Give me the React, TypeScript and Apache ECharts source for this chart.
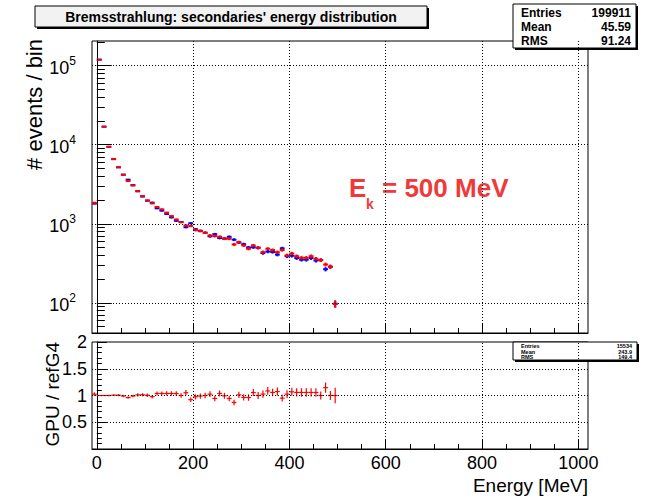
import React, { useEffect, useRef } from "react";
import * as echarts from "echarts";

// ---- data ----
const binCenters = [
  -5, 5, 15, 25, 35, 45, 55, 65, 75, 85, 95, 105, 115, 125, 135, 145, 155, 165, 175, 185,
  195, 205, 215, 225, 235, 245, 255, 265, 275, 285, 295, 305, 315, 325, 335, 345, 355, 365, 375, 385,
  395, 405, 415, 425, 435, 445, 455, 465, 475, 485, 495,
];
const gpuCounts = [
  1845, 119000, 16900, 9400, 6600, 5200, 4150, 3470, 3050, 2600, 2240, 1970, 1810, 1630, 1520, 1380, 1250, 1130, 1050, 952,
  935, 831, 807, 769, 711, 698, 685, 646, 646, 547, 586, 532, 483, 532, 497, 437, 483, 465, 437, 465,
  398, 421, 389, 371, 371, 389, 361, 347, 305, 286, 97,
];
const refCounts = [
  1800, 119000, 16900, 9400, 6560, 5170, 4190, 3610, 3080, 2570, 2210, 1960, 1850, 1570, 1465, 1330, 1205, 1090, 1050, 905,
  1015, 852, 815, 769, 694, 739, 660, 650, 684, 629, 579, 552, 502, 504, 497, 426, 445, 440, 407, 489,
  388, 394, 368, 351, 351, 368, 342, 347, 266, 286, 97,
];
const xLabelTicks = [0, 200, 400, 600, 800, 1000];
const xMinorTicks = [
  0, 50, 100, 150, 200, 250, 300, 350, 400, 450, 500, 550, 600, 650, 700, 750, 800, 850, 900, 950, 1000,
];
const logMajorTicks = [100, 1000, 10000, 100000];
const logMinorTicks = [
  50, 60, 70, 80, 90, 200, 300, 400, 500, 600, 700, 800, 900, 2000, 3000, 4000, 5000, 6000, 7000, 8000, 9000,
  20000, 30000, 40000, 50000, 60000, 70000, 80000, 90000, 200000,
];
const ratioGridValues = [0.5, 1, 1.5];
const statsMain = [
  ["Entries", "199911"],
  ["Mean", "45.59"],
  ["RMS", "91.24"],
];
const statsRatio = [
  ["Entries", "15534"],
  ["Mean", "243.9"],
  ["RMS", "149.4"],
];
const titleText = "Bremsstrahlung: secondaries' energy distribution";
const halfBin = 5;

const FONT = "'Liberation Sans', Arial, Helvetica, sans-serif";
const RED = "#ff0000";
const BLUE = "#0000ff";

function errRender(color: string, lw: number) {
  return (params: any, api: any) => {
    const x = api.value(0);
    const y = api.value(1);
    const e = api.value(2);
    const l = api.coord([x - halfBin, y]);
    const r = api.coord([x + halfBin, y]);
    const t = api.coord([x, y + e]);
    const b = api.coord([x, Math.max(y - e, 1e-6)]);
    return {
      type: "group",
      children: [
        { type: "line", shape: { x1: l[0], y1: l[1], x2: r[0], y2: r[1] }, style: { stroke: color, lineWidth: lw } },
        { type: "line", shape: { x1: t[0], y1: t[1], x2: b[0], y2: b[1] }, style: { stroke: color, lineWidth: lw } },
      ],
    };
  };
}

export default function App() {
  const ref = useRef<HTMLDivElement>(null);
  useEffect(() => {
    if (!ref.current) return;
    const chart = echarts.init(ref.current, null, { renderer: "svg" });

    const gpuData = binCenters.map((c, i) => [c, gpuCounts[i], Math.sqrt(gpuCounts[i])]);
    const refData = binCenters.map((c, i) => [c, refCounts[i], Math.sqrt(refCounts[i])]);
    const ratioData = binCenters.map((c, i) => {
      const r = gpuCounts[i] / refCounts[i];
      return [c, r, r * Math.sqrt(1 / gpuCounts[i] + 1 / refCounts[i])];
    });

    const dotted = { color: "#000", width: 1, type: [1, 2] as any, opacity: 1 };
    const gridL = 92, gridW = 496;
    const baseX = {
      type: "value",
      min: -10,
      max: 1020,
      axisLine: { show: true, lineStyle: { color: "#000", width: 1 } },
      axisLabel: { show: false },
      splitLine: { show: false },
    };

    const statsGraphic = (x: number, y: number, w: number, h: number, rows: string[][], fs: number, rowH: number, y0: number) => {
      const children: any[] = [
        { type: "rect", shape: { x: x + 2, y: y + 2, width: w, height: h }, style: { fill: "#000" } },
        { type: "rect", shape: { x, y, width: w, height: h }, style: { fill: "#fff", stroke: "#000", lineWidth: 1 } },
      ];
      rows.forEach((r, i) => {
        children.push({
          type: "text", x: x + 8, y: y0 + i * rowH,
          style: { text: r[0], font: `bold ${fs}px ${FONT}`, fill: "#000", align: "left", verticalAlign: "middle" },
        });
        children.push({
          type: "text", x: x + w - 5, y: y0 + i * rowH,
          style: { text: r[1], font: `bold ${fs}px ${FONT}`, fill: "#000", align: "right", verticalAlign: "middle" },
        });
      });
      return { type: "group", children };
    };

    chart.setOption({
      animation: false,
      backgroundColor: "#fff",
      textStyle: { fontFamily: FONT },
      grid: [
        { left: gridL, width: gridW, top: 41, height: 292, show: true, borderColor: "#000", borderWidth: 1, backgroundColor: "transparent" },
        { left: gridL, width: gridW, top: 342, height: 107, show: true, borderColor: "#000", borderWidth: 1, backgroundColor: "transparent" },
      ],
      xAxis: [
        { ...baseX, gridIndex: 0, position: "bottom",
          axisTick: { show: true, inside: true, length: 10, customValues: xLabelTicks, lineStyle: { color: "#000" } } },
        { ...baseX, gridIndex: 0, position: "bottom", axisLine: { show: false },
          axisTick: { show: true, inside: true, length: 5, customValues: xMinorTicks, lineStyle: { color: "#000" } } },
        { ...baseX, gridIndex: 1, position: "bottom",
          axisTick: { show: true, inside: true, length: 10, customValues: xLabelTicks, lineStyle: { color: "#000" } },
          axisLabel: { show: true, customValues: xLabelTicks, fontSize: 18, color: "#000", margin: 5, fontFamily: FONT,
            formatter: (v: number) => String(v) } },
        { ...baseX, gridIndex: 1, position: "bottom", axisLine: { show: false },
          axisTick: { show: true, inside: true, length: 5, customValues: xMinorTicks, lineStyle: { color: "#000" } } },
      ],
      yAxis: [
        { type: "log", gridIndex: 0, position: "left", min: 41.5, max: 205000,
          axisLine: { show: true, lineStyle: { color: "#000" } },
          axisTick: { show: true, inside: true, length: 15, customValues: logMajorTicks, lineStyle: { color: "#000" } },
          splitLine: { show: false },
          axisLabel: {
            show: true, customValues: logMajorTicks, margin: 16, color: "#000",
            formatter: (v: number) => `{b|10}{s|${Math.round(Math.log10(v))}}`,
            rich: {
              b: { fontSize: 18, fontFamily: FONT, color: "#000", verticalAlign: "bottom", lineHeight: 22 },
              s: { fontSize: 12, fontFamily: FONT, color: "#000", verticalAlign: "bottom", lineHeight: 22, padding: [0, 0, 10, 0] },
            },
          } },
        { type: "log", gridIndex: 0, position: "left", min: 41.5, max: 205000,
          axisLine: { show: false }, axisLabel: { show: false }, splitLine: { show: false },
          axisTick: { show: true, inside: true, length: 8, customValues: logMinorTicks, lineStyle: { color: "#000" } } },
        { type: "value", gridIndex: 1, position: "left", min: 0, max: 2, interval: 0.5,
          axisLine: { show: true, lineStyle: { color: "#000" } },
          axisTick: { show: true, inside: true, length: 10, lineStyle: { color: "#000" } },
          minorTick: { show: true, splitNumber: 5, length: 5, lineStyle: { color: "#000" } },
          splitLine: { show: false },
          axisLabel: { show: true, fontSize: 18, color: "#000", margin: 5, fontFamily: FONT, showMinLabel: false,
            formatter: (v: number) => (v === 0 ? "" : String(v)) } },
      ],
      series: [
        // dotted grid lines
        { type: "line", xAxisIndex: 0, yAxisIndex: 0, data: [], silent: true, z: 1,
          markLine: { silent: true, symbol: "none", label: { show: false }, lineStyle: dotted,
            data: [...xLabelTicks.map((v) => ({ xAxis: v })), ...logMajorTicks.map((v) => ({ yAxis: v }))] } },
        { type: "line", xAxisIndex: 2, yAxisIndex: 2, data: [], silent: true, z: 1,
          markLine: { silent: true, symbol: "none", label: { show: false }, lineStyle: dotted,
            data: [...xLabelTicks.map((v) => ({ xAxis: v })), ...ratioGridValues.map((v) => ({ yAxis: v }))] } },
        { type: "custom", name: "refG4", xAxisIndex: 0, yAxisIndex: 0, data: refData, renderItem: errRender(BLUE, 2), clip: true, z: 2 },
        { type: "custom", name: "GPU", xAxisIndex: 0, yAxisIndex: 0, data: gpuData, renderItem: errRender(RED, 2), clip: true, z: 3 },
        { type: "custom", name: "ratio", xAxisIndex: 2, yAxisIndex: 2, data: ratioData, renderItem: errRender(RED, 1.2), clip: true, z: 3 },
      ],
      graphic: [
        { type: "rect", shape: { x: 37, y: 8, width: 392, height: 21 }, style: { fill: "#000" } },
        { type: "rect", shape: { x: 35, y: 6, width: 392, height: 21 }, style: { fill: "#f2f2f2", stroke: "#000", lineWidth: 1 } },
        { type: "text", x: 231, y: 16.5, style: { text: titleText, font: `bold 14px ${FONT}`, fill: "#000", align: "center", verticalAlign: "middle" } },
        statsGraphic(513, 4, 123, 44, statsMain, 12, 14, 12.5),
        statsGraphic(513, 342, 124, 18, statsRatio, 5.5, 5.5, 346),
        { type: "text", x: 34, y: 39, rotation: Math.PI / 2,
          style: { text: "# events / bin", font: `22px ${FONT}`, fill: "#000", align: "right", verticalAlign: "middle" } },
        { type: "text", x: 52, y: 342, rotation: Math.PI / 2,
          style: { text: "GPU / refG4", font: `19px ${FONT}`, fill: "#000", align: "right", verticalAlign: "middle" } },
        { type: "text", x: 588, y: 485,
          style: { text: "Energy [MeV]", font: `19px ${FONT}`, fill: "#000", align: "right", verticalAlign: "middle" } },
        { type: "text", x: 349, y: 188,
          style: { text: "E", font: `bold 26px ${FONT}`, fill: "#f03a3a", align: "left", verticalAlign: "middle" } },
        { type: "text", x: 366, y: 204,
          style: { text: "k", font: `bold 14px ${FONT}`, fill: "#f03a3a", align: "left", verticalAlign: "middle" } },
        { type: "text", x: 382, y: 188,
          style: { text: "= 500 MeV", font: `bold 26px ${FONT}`, fill: "#f03a3a", align: "left", verticalAlign: "middle" } },
      ],
    });
    return () => chart.dispose();
  }, []);
  return <div ref={ref} style={{ width: 648, height: 499, position: "absolute", left: 0, top: 0 }} />;
}
